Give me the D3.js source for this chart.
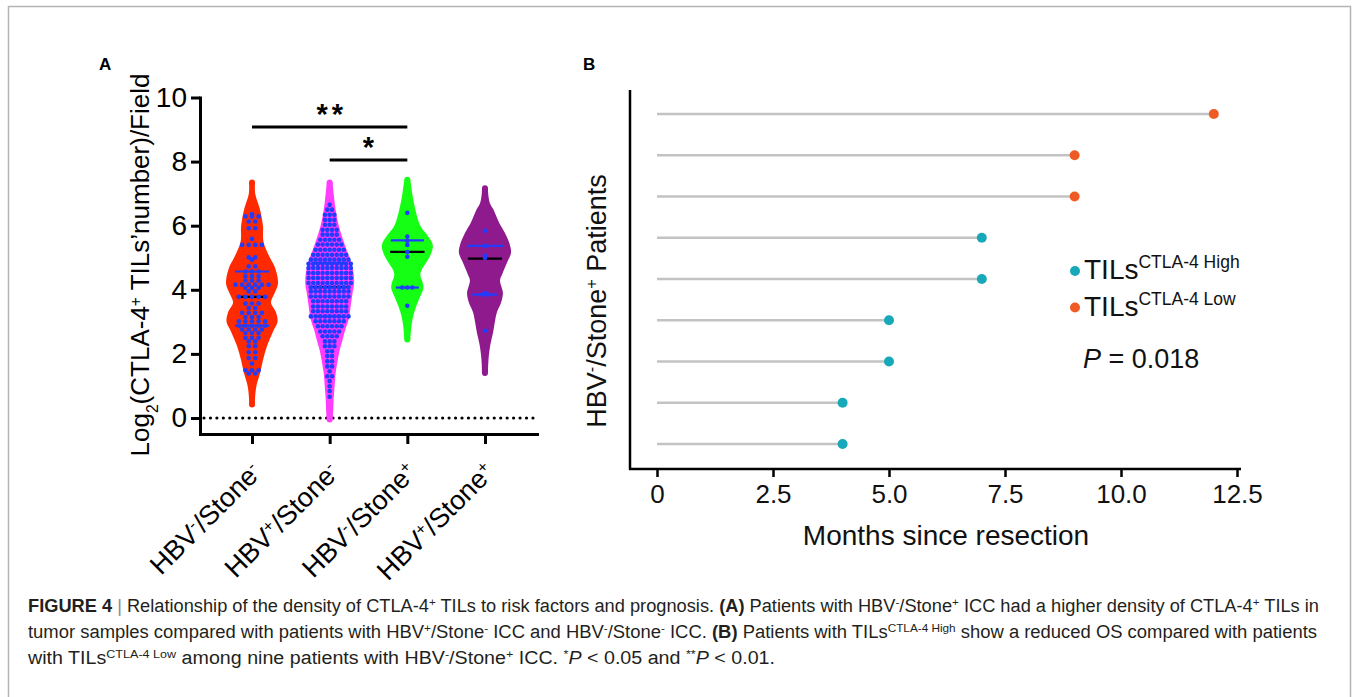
<!DOCTYPE html>
<html><head><meta charset="utf-8">
<script src="https://cdn.jsdelivr.net/npm/d3@7"></script>
<style>body{margin:0;background:#fff}svg{display:block}text{font-family:'Liberation Sans',Arial,Helvetica,sans-serif}</style>
</head><body><svg id="c" width="1354" height="697"></svg>
<script>
// ---------------- DATA ----------------
const groupNames = ["HBV-/Stone-", "HBV+/Stone-", "HBV-/Stone+", "HBV+/Stone+"];
const groupHBV = ["-", "+", "-", "+"];
const groupStone = ["-", "-", "+", "+"];
const yTicksA = [0, 2, 4, 6, 8, 10];

// violin outlines: value levels and relative density (0-1)
const redLevels = [7.35, 7.0, 6.5, 6.0, 5.5, 5.0, 4.7, 4.2, 3.9, 3.6, 3.3, 3.0, 2.7, 2.25, 1.8, 1.4, 1.0, 0.6, 0.42];
const redDensity = [0.115, 0.123, 0.31, 0.42, 0.44, 0.69, 0.88, 1.0, 0.87, 0.73, 0.92, 0.98, 0.81, 0.58, 0.42, 0.31, 0.17, 0.115, 0.115];
const pinkLevels = [7.35, 7.0, 6.5, 6.0, 5.6, 5.2, 4.8, 4.5, 4.2, 3.9, 3.5, 3.07, 2.7, 2.45, 2.1, 1.8, 1.4, 1.0, 0.6, 0.2, -0.05];
const pinkDensity = [0.115, 0.154, 0.23, 0.35, 0.5, 0.67, 0.85, 0.92, 0.94, 0.88, 0.81, 0.73, 0.58, 0.5, 0.38, 0.31, 0.23, 0.19, 0.154, 0.135, 0.115];
const greenLevels = [7.43, 7.0, 6.5, 6.0, 5.7, 5.4, 5.1, 4.85, 4.6, 4.45, 4.2, 4.05, 3.8, 3.5, 3.2, 2.85, 2.45];
const greenDensity = [0.115, 0.19, 0.31, 0.5, 0.77, 0.98, 0.9, 0.73, 0.54, 0.5, 0.6, 0.62, 0.5, 0.35, 0.23, 0.154, 0.115];
const purpleLevels = [7.17, 7.0, 6.7, 6.5, 6.1, 5.77, 5.4, 5.15, 4.85, 4.5, 4.3, 4.1, 3.9, 3.6, 3.3, 2.95, 2.66, 2.3, 1.82, 1.4];
const purpleDensity = [0.115, 0.123, 0.19, 0.33, 0.54, 0.77, 0.96, 1.0, 0.85, 0.67, 0.58, 0.63, 0.69, 0.62, 0.46, 0.37, 0.31, 0.21, 0.135, 0.115];

// individual points: value rows and number of points in each row
const redDotValues = [6.36, 6.29, 6.13, 5.92, 5.59, 5.40, 5.01, 4.94, 4.73, 4.57, 4.42, 4.29, 4.16, 4.06, 3.95, 3.78, 3.57, 3.43, 3.28, 3.15, 3.02, 2.88, 2.76, 2.65, 2.50, 2.39, 2.24, 2.05, 1.87, 1.70, 1.49, 1.39];
const redDotCounts = [1, 3, 2, 2, 1, 4, 2, 1, 2, 3, 3, 3, 6, 3, 2, 5, 3, 2, 4, 3, 5, 5, 4, 3, 3, 2, 2, 2, 2, 1, 3, 2];
const pinkDotValues = [6.65, 6.50, 6.34, 6.18, 6.03, 5.87, 5.72, 5.56, 5.41, 5.25, 5.09, 4.94, 4.81, 4.68, 4.52, 4.37, 4.21, 4.08, 3.95, 3.79, 3.64, 3.48, 3.33, 3.17, 3.02, 2.86, 2.70, 2.55, 2.39, 2.24, 2.08, 1.93, 1.77, 1.61, 1.46, 1.30, 1.15, 0.99, 0.84, 0.66];
const pinkDotCounts = [1, 2, 3, 3, 3, 4, 4, 5, 6, 7, 8, 9, 10, 10, 10, 10, 10, 9, 9, 9, 8, 8, 8, 9, 7, 6, 5, 4, 3, 3, 2, 2, 2, 2, 1, 2, 1, 1, 1, 1];
const greenDotValues = [6.40, 5.66, 5.53, 5.40, 5.18, 5.03, 4.07, 3.50];
const greenDotCounts = [1, 1, 1, 1, 1, 1, 3, 1];
const purpleDotValues = [5.84, 5.37, 5.06, 4.99, 3.90, 3.85, 2.72];
const purpleDotCounts = [1, 1, 1, 1, 1, 2, 1];

const medians = [3.78, 4.08, 5.18, 4.97];
const upperQuartiles = [4.57, 4.83, 5.54, 5.37];
const lowerQuartiles = [2.88, 3.17, 4.07, 3.85];

// significance brackets [from group, to group, label]
const sigFrom = [0, 1];
const sigTo = [2, 2];
const sigLabels = ["**", "*"];

// Panel B
const patients = [1, 2, 3, 4, 5, 6, 7, 8, 9];
const months = [12, 9, 9, 7, 7, 5, 5, 4, 4];
const tilLevel = ["Low", "Low", "Low", "High", "High", "High", "High", "High", "High"];
const xTicksB = [0, 2.5, 5, 7.5, 10, 12.5];
const legendLevels = ["High", "Low"];

// ---------------- STYLE / LAYOUT ----------------
const violinColors = ["#ff2a00", "#ff3dff", "#14ff14", "#8e1a8e"];
const dotColor = "#1f3cff";
const dotSpacing = [6.6, 4.7, 5.0, 5.0];
const levelColor = { High: "#17a9b9", Low: "#f05a24" };

const svg = d3.select("#c");
svg.append("rect").attr("x", 8.5).attr("y", 6.5).attr("width", 1342).attr("height", 740)
  .attr("fill", "none").attr("stroke", "#b5b5b5").attr("stroke-width", 1.5);

function addRich(textSel, parts) {
  parts.forEach(([s, t]) => {
    const ts = textSel.append("tspan").text(s);
    if (t === "sup") ts.attr("baseline-shift", "super").attr("font-size", "0.6em");
    if (t === "sub") ts.attr("baseline-shift", "sub").attr("font-size", "0.6em");
    if (t === "b") ts.attr("font-weight", "bold");
    if (t === "i") ts.attr("font-style", "italic");
  });
}

// ---------------- PANEL A ----------------
const gA = svg.append("g");
gA.append("text").attr("x", 99).attr("y", 70).attr("font-size", 17).attr("font-weight", "bold").text("A");

const yA = d3.scaleLinear().domain([-0.5, 10]).range([434, 97.5]);
const xA = d3.scalePoint().domain(groupNames).range([200, 537]).padding(0.67);
const wA = d3.scaleLinear().domain([0, 1]).range([0, 26]);

const violins = [
  { levels: redLevels, dens: redDensity, dv: redDotValues, dc: redDotCounts },
  { levels: pinkLevels, dens: pinkDensity, dv: pinkDotValues, dc: pinkDotCounts },
  { levels: greenLevels, dens: greenDensity, dv: greenDotValues, dc: greenDotCounts },
  { levels: purpleLevels, dens: purpleDensity, dv: purpleDotValues, dc: purpleDotCounts }
];

function densAt(v, val) {
  for (let j = 0; j < v.levels.length - 1; j++) {
    const a = v.levels[j], b = v.levels[j + 1];
    if (val <= a && val >= b) {
      const t = (a - val) / (a - b);
      return v.dens[j] + t * (v.dens[j + 1] - v.dens[j]);
    }
  }
  return 0.1;
}

// zero dotted line
gA.append("line").attr("x1", 204).attr("x2", 537).attr("y1", yA(0)).attr("y2", yA(0))
  .attr("stroke", "#000").attr("stroke-width", 3.2).attr("stroke-linecap", "round")
  .attr("stroke-dasharray", "0,6.45");

violins.forEach((v, i) => {
  const cx = xA(groupNames[i]);
  const pts = v.levels.map((l, j) => ({ y: yA(l), w: wA(v.dens[j]) }));
  const area = d3.area().y(d => d.y).x0(d => cx - d.w).x1(d => cx + d.w).curve(d3.curveCatmullRom);
  gA.append("path").attr("d", area(pts)).attr("fill", violinColors[i]);
  [pts[0], pts[pts.length - 1]].forEach(p => gA.append("circle").attr("cx", cx).attr("cy", p.y).attr("r", p.w).attr("fill", violinColors[i]));
  [[upperQuartiles[i], dotColor], [lowerQuartiles[i], dotColor], [medians[i], "#000"]].forEach(([q, col]) => {
    const hw = wA(densAt(v, q)) * 0.72;
    gA.append("line").attr("x1", cx - hw).attr("x2", cx + hw).attr("y1", yA(q)).attr("y2", yA(q))
      .attr("stroke", col).attr("stroke-width", 2.2);
  });
  v.dv.forEach((val, j) => {
    const n = v.dc[j];
    for (let k = 0; k < n; k++) {
      gA.append("circle").attr("cx", cx + (k - (n - 1) / 2) * dotSpacing[i]).attr("cy", yA(val))
        .attr("r", 2.3).attr("fill", dotColor);
    }
  });
});

// axes
const yAxisA = d3.axisLeft(yA).tickValues(yTicksA).tickSize(9).tickSizeOuter(0).tickPadding(4);
const gyA = gA.append("g").attr("transform", "translate(200,0)").call(yAxisA);
const xAxisA = d3.axisBottom(xA).tickSize(10).tickSizeOuter(0).tickFormat("");
const gxA = gA.append("g").attr("transform", "translate(0,434)").call(xAxisA);
[gyA, gxA].forEach(g => {
  g.select(".domain").attr("stroke-width", 3).attr("stroke-linecap", "square");
  g.selectAll(".tick line").attr("stroke-width", 3);
  g.selectAll("text").attr("font-size", 28).attr("fill", "#000").attr("font-family", "'Liberation Sans',Arial,sans-serif");
});

groupNames.forEach((gname, i) => {
  const cx = xA(gname);
  const t = gA.append("text").attr("transform", `translate(${cx + 11},${474}) rotate(-45)`)
    .attr("text-anchor", "end").attr("font-size", 27);
  addRich(t, [["HBV", "n"], [groupHBV[i], "sup"], ["/Stone", "n"], [groupStone[i], "sup"]]);
});

const yLabA = gA.append("text").attr("transform", "translate(149,265) rotate(-90)")
  .attr("text-anchor", "middle").attr("font-size", 26);
addRich(yLabA, [["Log", "n"], ["2", "sub"], ["(CTLA-4", "n"], ["+", "sup"], [" TILs\u2019number)/Field", "n"]]);

// significance
const sigY = [127, 160];
sigFrom.forEach((f, k) => {
  const x1 = xA(groupNames[f]), x2 = xA(groupNames[sigTo[k]]);
  gA.append("line").attr("x1", x1).attr("x2", x2).attr("y1", sigY[k]).attr("y2", sigY[k])
    .attr("stroke", "#000").attr("stroke-width", 3);
  gA.append("text").attr("x", (x1 + x2) / 2 + 2).attr("y", sigY[k] - 3).attr("text-anchor", "middle")
    .attr("font-size", 29).attr("font-weight", "bold").attr("letter-spacing", 4).text(sigLabels[k]);
});

// ---------------- PANEL B ----------------
const gB = svg.append("g");
gB.append("text").attr("x", 583).attr("y", 70).attr("font-size", 17).attr("font-weight", "bold").text("B");

const xB = d3.scaleLinear().domain([0, 12.5]).range([657, 1237]);
const yB = d3.scalePoint().domain(patients).range([114, 444]);

gB.append("line").attr("x1", 630).attr("x2", 630).attr("y1", 90).attr("y2", 469.5).attr("stroke", "#000").attr("stroke-width", 2.5);
gB.append("line").attr("x1", 629).attr("x2", 1241).attr("y1", 469).attr("y2", 469).attr("stroke", "#000").attr("stroke-width", 2.5);
const xAxisB = d3.axisBottom(xB).tickValues(xTicksB).tickSize(8).tickPadding(8)
  .tickFormat(d => d === 0 ? "0" : d.toFixed(1));
const gxB = gB.append("g").attr("transform", "translate(0,469)").call(xAxisB);
gxB.select(".domain").remove();
gxB.selectAll(".tick line").attr("stroke-width", 2.5);
gxB.selectAll("text").attr("font-size", 26).attr("fill", "#111").attr("font-family", "'Liberation Sans',Arial,sans-serif");

patients.forEach((p, i) => {
  gB.append("line").attr("x1", xB(0)).attr("x2", xB(months[i])).attr("y1", yB(p)).attr("y2", yB(p))
    .attr("stroke", "#c3c3c3").attr("stroke-width", 2.5);
  gB.append("circle").attr("cx", xB(months[i])).attr("cy", yB(p)).attr("r", 5).attr("fill", levelColor[tilLevel[i]]);
});

gB.append("text").attr("x", 946).attr("y", 545).attr("text-anchor", "middle").attr("font-size", 28)
  .attr("fill", "#111").text("Months since resection");

const yLabB = gB.append("text").attr("transform", "translate(606,301) rotate(-90)")
  .attr("text-anchor", "middle").attr("font-size", 27).attr("fill", "#111");
addRich(yLabB, [["HBV", "n"], ["-", "sup"], ["/Stone", "n"], ["+", "sup"], [" Patients", "n"]]);

legendLevels.forEach((lv, k) => {
  const y = 271 + k * 36.5;
  gB.append("circle").attr("cx", 1075).attr("cy", y).attr("r", 5).attr("fill", levelColor[lv]);
  const t = gB.append("text").attr("x", 1084).attr("y", y + 8).attr("font-size", 28).attr("fill", "#111");
  t.append("tspan").text("TILs");
  t.append("tspan").attr("font-size", 17.5).attr("dy", -11).text("CTLA-4 " + lv);
});
const pT = gB.append("text").attr("x", 1083).attr("y", 368).attr("font-size", 27).attr("fill", "#111");
addRich(pT, [["P", "i"], [" = 0.018", "n"]]);

// ---------------- CAPTION ----------------
const capLines = [
  [["FIGURE 4", "b"], [" | ", "bar"], ["Relationship of the density of CTLA-4", "n"], ["+", "sup"], [" TILs to risk factors and prognosis. ", "n"], ["(A)", "b"], [" Patients with HBV", "n"], ["-", "sup"], ["/Stone", "n"], ["+", "sup"], [" ICC had a higher density of CTLA-4", "n"], ["+", "sup"], [" TILs in", "n"]],
  [["tumor samples compared with patients with HBV", "n"], ["+", "sup"], ["/Stone", "n"], ["-", "sup"], [" ICC and HBV", "n"], ["-", "sup"], ["/Stone", "n"], ["-", "sup"], [" ICC. ", "n"], ["(B)", "b"], [" Patients with TILs", "n"], ["CTLA-4 High", "sup"], [" show a reduced OS compared with patients", "n"]],
  [["with TILs", "n"], ["CTLA-4 Low", "sup"], [" among nine patients with HBV", "n"], ["-", "sup"], ["/Stone", "n"], ["+", "sup"], [" ICC. ", "n"], ["*", "sup"], ["P", "i"], [" < 0.05 and ", "n"], ["**", "sup"], ["P", "i"], [" < 0.01.", "n"]]
];
const capWidths = [1291, 1289, 747];
capLines.forEach((parts, li) => {
  const t = svg.append("text").attr("x", 28).attr("y", 612 + li * 26).attr("font-size", 18)
    .attr("fill", "#231f20").attr("font-family", "'Liberation Sans Narrow','Liberation Sans',Arial,sans-serif")
    .attr("textLength", capWidths[li]).attr("lengthAdjust", "spacingAndGlyphs");
  parts.forEach(([s, ty]) => {
    const ts = t.append("tspan").text(s);
    if (ty === "sup") ts.attr("baseline-shift", "super").attr("font-size", 11.5);
    if (ty === "b") ts.attr("font-weight", "bold");
    if (ty === "i") ts.attr("font-style", "italic");
    if (ty === "bar") ts.attr("fill", "#8a8a8a");
  });
});
</script></body></html>
